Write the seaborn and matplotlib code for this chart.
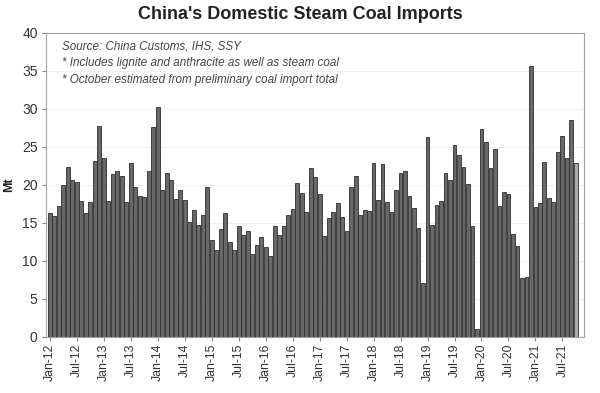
import numpy as np
import pandas as pd
import seaborn as sns
import matplotlib.pyplot as plt

# monthly imports, Mt (Jan-12 .. Oct-21)
imports_2012 = [16.3, 15.9, 17.3, 20.0, 22.4, 20.7, 20.4, 17.9, 16.3, 17.8, 23.2, 27.7]
imports_2013 = [23.5, 17.9, 21.5, 21.8, 21.2, 17.7, 22.9, 19.7, 18.5, 18.4, 21.9, 27.6]
imports_2014 = [30.3, 19.3, 21.6, 20.7, 18.2, 19.3, 18.0, 15.1, 16.7, 14.7, 16.1, 19.7]
imports_2015 = [12.8, 11.4, 14.2, 16.3, 12.5, 11.5, 14.6, 13.4, 13.9, 10.9, 12.1, 13.2]
imports_2016 = [11.9, 10.6, 14.6, 13.4, 14.6, 16.0, 16.8, 20.2, 18.9, 16.4, 22.3, 21.0]
imports_2017 = [18.8, 13.3, 15.7, 16.4, 17.6, 15.8, 13.9, 19.8, 21.2, 16.0, 16.7, 16.6]
imports_2018 = [22.9, 18.0, 22.8, 17.8, 16.4, 19.3, 21.6, 21.8, 18.6, 17.0, 14.3, 7.1]
imports_2019 = [26.3, 14.8, 17.4, 17.9, 21.6, 20.7, 25.3, 23.9, 22.4, 20.1, 14.6, 1.05]
imports_2020 = [27.4, 25.7, 22.3, 24.7, 17.3, 19.1, 18.8, 13.5, 12.0, 7.8, 7.9, 35.7]
imports_2021 = [17.1, 17.6, 23.0, 18.3, 17.7, 24.3, 26.4, 23.5, 28.6, 22.9]

values = (imports_2012 + imports_2013 + imports_2014 + imports_2015 + imports_2016
          + imports_2017 + imports_2018 + imports_2019 + imports_2020 + imports_2021)
months = pd.date_range("2012-01-01", periods=len(values), freq="MS")
status = ["actual"] * (len(values) - 1) + ["estimate"]  # October 2021 estimated

notes = [
    "Source: China Customs, IHS, SSY",
    "* Includes lignite and anthracite as well as steam coal",
    "* October estimated from preliminary coal import total",
]

df = pd.DataFrame({"month": months, "imports": values, "status": status})
df["pos"] = np.arange(len(df))

sns.set_style("white")
plt.rcParams["font.family"] = ["Liberation Sans", "DejaVu Sans"]

fig = plt.figure(figsize=(6.0, 3.93), dpi=100)
ax = fig.add_axes([46 / 600, 56 / 393, 538 / 600, 304 / 393])

sns.barplot(data=df, x="pos", y="imports", hue="status", dodge=False,
            palette={"actual": "#686868", "estimate": "#ababab"},
            edgecolor="#2e2e2e", linewidth=0.6, width=0.86,
            legend=False, ax=ax, zorder=3)

ax.set_ylim(0, 40)
ax.set_yticks(range(0, 41, 5))
ax.set_xlim(-0.85, len(df) + 0.8)
tick_pos = df["pos"][::6]
ax.set_xticks(tick_pos)
ax.set_xticklabels(df["month"][::6].dt.strftime("%b-%y"), rotation=90,
                   fontsize=8.8, color="#333333")
ax.tick_params(axis="y", labelsize=10, labelcolor="#333333", length=3,
               color="#888888", left=True, pad=3)
ax.tick_params(axis="x", length=3, color="#888888", bottom=True, pad=2)

ax.grid(axis="y", color="#efefef", linewidth=0.6, zorder=0)
for side in ax.spines.values():
    side.set_color("#a0a0a0")
    side.set_linewidth(0.8)

ax.set_xlabel("")
ax.set_ylabel("Mt", fontsize=9, fontweight="bold", color="#222222", labelpad=5)

fig.text(0.5, 0.962, "China's Domestic Steam Coal Imports", ha="center", va="center",
         fontsize=13, fontweight="bold", color="#222222")

for i, note in enumerate(notes):
    ax.text(0.03, 0.957 - i * 0.056, note, transform=ax.transAxes, fontsize=8.4,
            style="italic", color="#444444", va="center", ha="left")

fig.savefig("out.png", dpi=100)
